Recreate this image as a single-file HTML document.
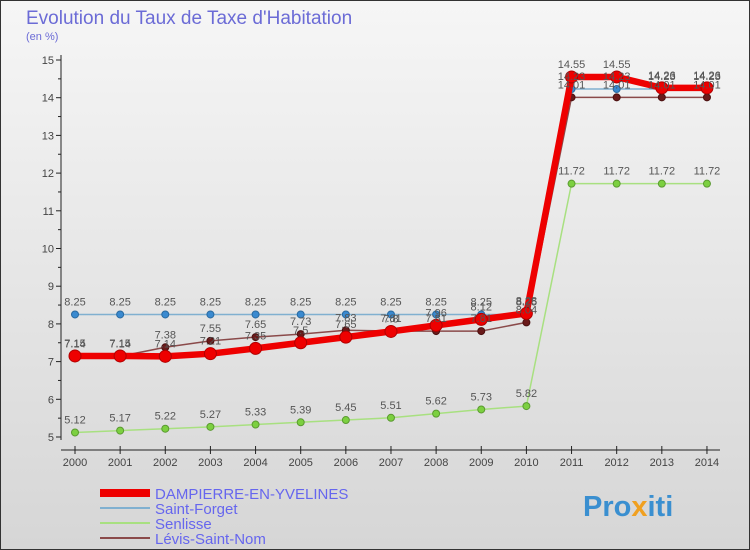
<!DOCTYPE html>
<html><head><meta charset="utf-8"><style>
body{margin:0;width:750px;height:550px;overflow:hidden;font-family:"Liberation Sans",sans-serif}
svg{display:block}
</style></head><body>
<svg width="750" height="550" xmlns="http://www.w3.org/2000/svg">
<defs><linearGradient id="bg" x1="0" y1="0" x2="0" y2="1"><stop offset="0" stop-color="#f6f6f6"/><stop offset="1" stop-color="#d6d6d6"/></linearGradient></defs>
<rect x="0.5" y="0.5" width="749" height="549" fill="url(#bg)" stroke="#333"/>
<text x="26" y="24" font-size="19" fill="#6b6bd6">Evolution du Taux de Taxe d'Habitation</text>
<text x="26" y="40" font-size="11" fill="#6b6bd6">(en %)</text>
<g id="axes"></g>
<g id="series"></g>
<g id="legend"></g>
<text x="583" y="516" font-size="29" font-weight="bold" fill="#3a8fd0">Pro<tspan fill="#f0a020">x</tspan>iti</text>
</svg>
<script>
const years=[2000,2001,2002,2003,2004,2005,2006,2007,2008,2009,2010,2011,2012,2013,2014];
const yTicks=[5,6,7,8,9,10,11,12,13,14,15];
const dampierre=[7.15,7.15,7.14,7.21,7.35,7.5,7.65,7.8,7.96,8.12,8.28,14.55,14.55,14.26,14.26];
const saintForget=[8.25,8.25,8.25,8.25,8.25,8.25,8.25,8.25,8.25,8.25,8.25,14.23,14.23,14.23,14.23];
const senlisse=[5.12,5.17,5.22,5.27,5.33,5.39,5.45,5.51,5.62,5.73,5.82,11.72,11.72,11.72,11.72];
const levis=[7.14,7.14,7.38,7.55,7.65,7.73,7.83,7.81,7.81,7.81,8.04,14.01,14.01,14.01,14.01];
const names=["DAMPIERRE-EN-YVELINES","Saint-Forget","Senlisse","Lévis-Saint-Nom"];
const NS="http://www.w3.org/2000/svg";
const X=y=>75+(y-2000)*45.14;
const Y=v=>437-(v-5)*37.7;
function mk(t,a,p){const e=document.createElementNS(NS,t);for(const k in a)e.setAttribute(k,a[k]);p.appendChild(e);return e;}
const ax=document.getElementById('axes');
let l=mk('line',{x1:61,y1:55,x2:61,y2:440,stroke:'#222'},ax);


l=mk('line',{x1:61,y1:450,x2:720,y2:450,stroke:'#222'},ax);


yTicks.forEach(v=>{
 const t=mk('line',{x1:56,x2:61,y1:Y(v),y2:Y(v),stroke:'#222'},ax);
 
 
 if(v<15){const m=mk('line',{x1:58,x2:61,y1:Y(v+0.5),y2:Y(v+0.5),stroke:'#222'},ax);
 
 }
 const tx=mk('text',{x:54,y:Y(v)+4,'text-anchor':'end','font-size':11,fill:'#444'},ax);tx.textContent=v;
 
 
});
years.forEach(y=>{
 const t=mk('line',{x1:X(y),x2:X(y),y1:446,y2:454,stroke:'#222'},ax);
 
 
 const tx=mk('text',{x:X(y),y:466,'text-anchor':'middle','font-size':11,fill:'#444'},ax);tx.textContent=y;
 
 
});
const sg=document.getElementById('series');
const defs=[
 {d:senlisse,c:'#a8e080',w:1.5,r:3.5,f:'#7cd040',s:'#5a9a30',n:'senlisse'},
 {d:levis,c:'#8a4a4a',w:1.5,r:3.5,f:'#6a1a1a',s:'#4a1010',n:'levis-saint-nom'},
 {d:saintForget,c:'#80b0d0',w:1.5,r:3.5,f:'#3a8ad0',s:'#2a6aa0',n:'saint-forget'},
 {d:dampierre,c:'#ee0000',w:6.5,r:6,f:'#ee0000',s:'#b00000',n:'dampierre'}
];
defs.forEach(s=>{
 const p=mk('polyline',{points:years.map((y,i)=>X(y)+','+Y(s.d[i])).join(' '),fill:'none',stroke:s.c,'stroke-width':s.w,'stroke-linejoin':'round'},sg);
 
 
 years.forEach((y,i)=>{
  const c=mk('circle',{cx:X(y),cy:Y(s.d[i]),r:s.r,fill:s.f,stroke:s.s,'stroke-width':1},sg);
  
  
 });
});
defs.forEach(s=>{
 years.forEach((y,i)=>{
  const t=mk('text',{x:X(y),y:Y(s.d[i])-9,'text-anchor':'middle','font-size':11,fill:'#555'},sg);
  t.textContent=s.d[i];
  
  
 });
});
const lg=document.getElementById('legend');
const lc=[['#ee0000',8],['#80b0d0',2],['#a8e080',2],['#8a4a4a',2]];
names.forEach((n,i)=>{
 const yy=493+i*15;
 const ln=mk('line',{x1:100,x2:150,y1:yy,y2:yy,stroke:lc[i][0],'stroke-width':lc[i][1]},lg);
 
 
 const t=mk('text',{x:155,y:yy+6,'font-size':15,fill:'#6666ee'},lg);t.textContent=n;
 
 
});
</script>
</body></html>
